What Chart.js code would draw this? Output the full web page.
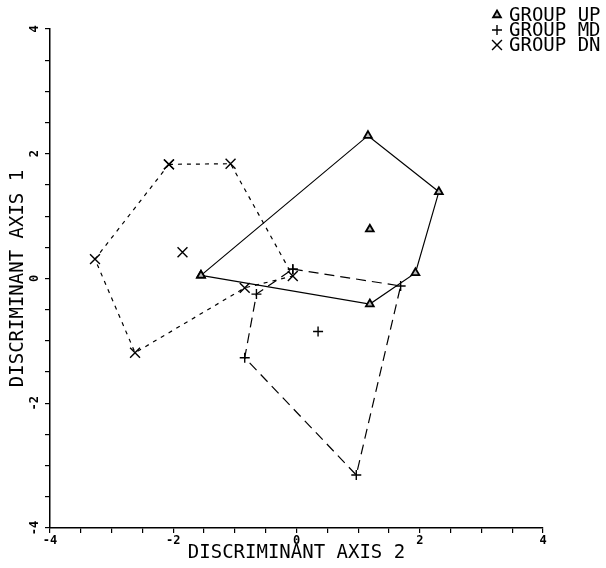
<!DOCTYPE html>
<html>
<head>
<meta charset="utf-8">
<script src="https://cdn.jsdelivr.net/npm/chart.js@4/dist/chart.umd.min.js"></script>
<style>
  html, body { margin: 0; padding: 0; background: #fff; }
  #wrap { width: 606px; height: 568px; position: relative; }
</style>
</head>
<body>
<div id="wrap"><canvas id="c" width="606" height="568"></canvas></div>
<script>
// ---- data ----
const groupNames = ['GROUP UP', 'GROUP MD', 'GROUP DN'];
const upHull  = [[-1.55, 0.05], [1.16, 2.29], [2.31, 1.39], [1.93, 0.09], [1.19, -0.41], [-1.55, 0.05]];
const upInner = [[1.19, 0.79]];
const mdHull  = [[-0.06, 0.15], [1.69, -0.12], [0.97, -3.15], [-0.84, -1.27], [-0.65, -0.25], [-0.06, 0.15]];
const mdInner = [[0.35, -0.85]];
const dnHull  = [[-2.07, 1.83], [-1.07, 1.84], [-0.06, 0.04], [-0.84, -0.15], [-2.62, -1.19], [-3.27, 0.31], [-2.07, 1.83]];
const dnInner = [[-1.85, 0.42]];
const tickLabels = [-4, -2, 0, 2, 4];
const axisMin = -4, axisMax = 4, minorStep = 0.5;
const xTitle = 'DISCRIMINANT AXIS 2';
const yTitle = 'DISCRIMINANT AXIS 1';

const toXY = arr => arr.map(p => ({x: p[0], y: p[1]}));
const FONT = "'DejaVu Sans Mono', 'Liberation Mono', monospace";

const styles = [
  {pointStyle: 'triangle', radius: 4.5, dash: [], bg: '#bbbbbb', bw: 1.8},
  {pointStyle: 'cross', radius: 5, dash: [10, 6], bg: '#000', bw: 1.4},
  {pointStyle: 'crossRot', radius: 7, dash: [4, 5], bg: '#000', bw: 1.4}
];

function hullSet(data, st) {
  return {
    data: toXY(data), showLine: true, borderColor: '#000', borderWidth: 1.2,
    borderDash: st.dash, fill: false, tension: 0,
    pointStyle: st.pointStyle, pointRadius: st.radius, pointBorderColor: '#000',
    pointBackgroundColor: st.bg, pointBorderWidth: st.bw
  };
}
function innerSet(data, st) {
  return {
    data: toXY(data), showLine: false, borderColor: '#000',
    pointStyle: st.pointStyle, pointRadius: st.radius, pointBorderColor: '#000',
    pointBackgroundColor: st.bg, pointBorderWidth: st.bw
  };
}

const legendPlugin = {
  id: 'plotLegend',
  afterDraw(chart) {
    const ctx = chart.ctx;
    ctx.save();
    ctx.font = "19px " + FONT;
    ctx.textBaseline = 'middle';
    ctx.textAlign = 'left';
    groupNames.forEach((name, i) => {
      const y = 15 + i * 15;
      const st = styles[i];
      ctx.strokeStyle = '#000';
      ctx.lineWidth = st.bw;
      ctx.fillStyle = st.bg;
      Chart.helpers.drawPoint(ctx, {pointStyle: st.pointStyle, radius: st.radius, borderWidth: st.bw}, 497, y);
      ctx.fillStyle = '#000';
      ctx.fillText(name, 509, y + 1);
    });
    ctx.restore();
  }
};

const tickCb = v => (tickLabels.includes(Math.round(v * 100) / 100) ? String(v) : '');

new Chart(document.getElementById('c'), {
  type: 'scatter',
  data: {
    datasets: [
      hullSet(upHull, styles[0]), innerSet(upInner, styles[0]),
      hullSet(mdHull, styles[1]), innerSet(mdInner, styles[1]),
      hullSet(dnHull, styles[2]), innerSet(dnInner, styles[2])
    ]
  },
  options: {
    responsive: false, animation: false, devicePixelRatio: 1,
    layout: {padding: {top: 29, right: 63, left: 0, bottom: 0}},
    plugins: {legend: {display: false}, tooltip: {enabled: false}},
    scales: {
      x: {
        type: 'linear', min: axisMin, max: axisMax,
        afterFit(s) { s.height = 40; },
        grid: {drawOnChartArea: false, drawTicks: true, tickLength: 5, color: '#000', lineWidth: 1.2},
        border: {display: true, color: '#000', width: 1.5},
        ticks: {stepSize: minorStep, autoSkip: false, maxRotation: 0, callback: tickCb,
                color: '#000', padding: 1, font: {family: FONT, size: 12, weight: 'bold'}},
        title: {display: true, text: xTitle, color: '#000', padding: {top: 0, bottom: 4},
                font: {family: FONT, size: 19}}
      },
      y: {
        type: 'linear', min: axisMin, max: axisMax,
        afterFit(s) { s.width = 50; },
        grid: {drawOnChartArea: false, drawTicks: true, tickLength: 5, color: '#000', lineWidth: 1.2},
        border: {display: true, color: '#000', width: 1.5},
        ticks: {stepSize: minorStep, autoSkip: false, minRotation: 90, maxRotation: 90,
                crossAlign: 'center', callback: tickCb,
                color: '#000', padding: 3, font: {family: FONT, size: 12, weight: 'bold'}},
        title: {display: true, text: yTitle, color: '#000', padding: {top: 7, bottom: 0},
                font: {family: FONT, size: 19}}
      }
    }
  },
  plugins: [legendPlugin]
});
</script>
</body>
</html>
